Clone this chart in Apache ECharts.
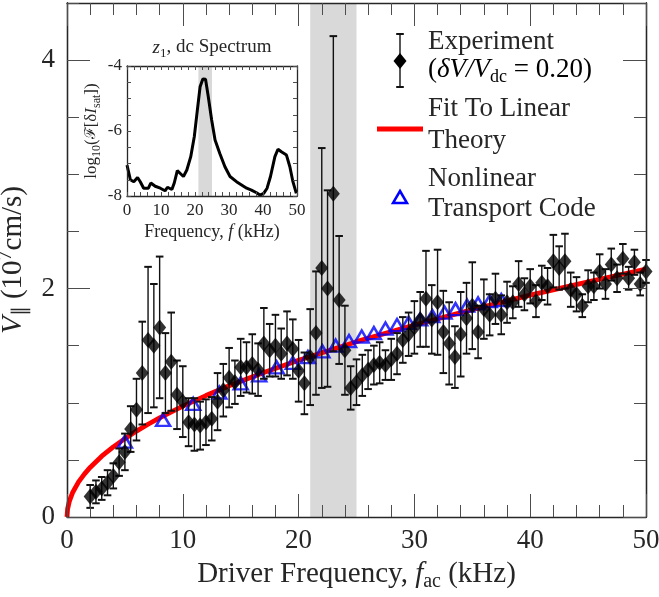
<!DOCTYPE html>
<html><head><meta charset="utf-8">
<script src="https://cdn.jsdelivr.net/npm/echarts@6/dist/echarts.min.js"></script>
<style>html,body{margin:0;padding:0;background:#fff}#c{width:659px;height:597px}</style>
</head><body><div id="c"></div>
<script>
// ---- data ----
const freq = [2.0,2.5,3.0,3.5,4.0,4.5,5.0,5.5,6.0,6.5,7.0,7.5,8.0,8.5,9.0,9.5,10.0,10.5,11.0,11.5,12.0,12.5,13.0,13.5,14.0,14.5,15.0,15.5,16.0,16.5,17.0,17.5,18.0,18.5,19.0,19.5,20.0,20.5,21.0,21.5,22.0,22.5,23.0,23.5,24.0,24.5,25.0,25.5,26.0,26.5,27.0,27.5,28.0,28.5,29.0,29.5,30.0,30.5,31.0,31.5,32.0,32.5,33.0,33.5,34.0,34.5,35.0,35.5,36.0,36.5,37.0,37.5,38.0,38.5,39.0,39.5,40.0,40.5,41.0,41.5,42.0,42.5,43.0,43.5,44.0,44.5,45.0,45.5,46.0,46.5,47.0,47.5,48.0,48.5,49.0,49.5,50.0];
const velocity = [0.18,0.22,0.25,0.30,0.36,0.48,0.57,0.77,0.94,1.26,1.55,1.50,1.66,1.26,1.36,1.07,1.01,0.83,0.81,0.80,0.83,0.86,1.01,1.11,1.22,1.18,1.31,1.31,1.34,1.29,1.52,1.46,1.50,1.43,1.52,1.47,1.28,1.17,1.40,1.61,2.18,2.00,2.83,1.90,1.46,1.13,1.18,1.24,1.29,1.33,1.35,1.33,1.38,1.43,1.55,1.60,1.66,1.73,1.91,1.73,1.88,1.62,1.52,1.40,1.60,1.74,1.85,1.62,1.82,1.77,1.91,1.77,1.88,1.88,2.04,1.95,2.02,1.89,2.05,2.02,2.24,2.18,2.24,1.99,1.95,1.85,2.02,2.02,2.15,2.04,2.21,2.09,2.26,2.09,2.23,2.04,2.15];
const velocityErr = [0.10,0.10,0.10,0.11,0.11,0.12,0.16,0.20,0.27,0.45,0.64,0.54,0.62,0.35,0.43,0.30,0.31,0.21,0.23,0.21,0.20,0.19,0.25,0.23,0.26,0.19,0.25,0.22,0.26,0.23,0.31,0.23,0.27,0.22,0.28,0.26,0.27,0.27,0.42,0.54,1.05,0.86,1.38,0.56,0.39,0.19,0.20,0.18,0.17,0.17,0.18,0.13,0.18,0.18,0.20,0.19,0.23,0.24,0.42,0.30,0.46,0.36,0.36,0.27,0.37,0.31,0.38,0.23,0.26,0.18,0.22,0.17,0.18,0.14,0.20,0.14,0.15,0.14,0.15,0.16,0.23,0.19,0.24,0.15,0.15,0.10,0.14,0.12,0.15,0.13,0.14,0.12,0.13,0.10,0.11,0.10,0.10];
const codeFreq = [5.0,8.3,10.9,13.15,15.0,16.6,18.1,19.5,20.8,22.05,23.2,24.35,25.45,26.5,27.5,28.5,29.5,30.5,31.55,32.6,33.55,34.55,35.5,36.5,37.5];
const codeVel  = [0.66,0.85,0.99,1.09,1.17,1.24,1.31,1.35,1.40,1.45,1.50,1.54,1.58,1.61,1.65,1.68,1.70,1.73,1.76,1.79,1.82,1.85,1.87,1.89,1.90];
const fitFreq = [0,0.05,0.2,0.5,1,1.5,2,3,4,5,6,7,8,10,12,14,17,20,25,30,35,40,45,50];
const fitVel  = [0,0.069,0.137,0.217,0.307,0.376,0.434,0.532,0.614,0.686,0.752,0.812,0.868,0.971,1.063,1.149,1.266,1.373,1.535,1.681,1.816,1.942,2.059,2.171];
const specFreq = [0,1,2,3.1,3.9,4.9,6.3,7.0,8.3,9.8,11.2,11.9,13.2,13.9,14.8,15.6,16.6,17.6,18.75,19.8,20.7,21.5,22.3,23.1,23.9,24.9,25.9,27.3,28.8,30.3,32.2,33.7,35.2,36.6,38.1,39.1,40.2,41.2,42.2,43.5,44.4,45.4,46.9,47.9,48.8,49.8];
const specLog  = [-7.05,-7.5,-7.56,-7.43,-7.56,-7.76,-7.76,-7.6,-7.7,-7.76,-7.84,-7.73,-7.8,-7.6,-7.22,-7.3,-7.4,-7.2,-6.79,-6.17,-5.35,-4.64,-4.40,-4.41,-4.94,-5.66,-6.28,-6.69,-7.1,-7.4,-7.56,-7.66,-7.76,-7.82,-7.9,-7.97,-7.92,-7.76,-7.4,-6.79,-6.56,-6.64,-6.74,-7.1,-7.56,-7.92];
const band = [21, 25];
const mainXTicks = [0, 50, 10];   // min, max, step
const mainYTicks = [0, 4.5, 2];
const insetXTicks = [0, 50, 10];
const insetYTicks = [-8, -4, 2];

// ---- styling ----
const FONT = 'Liberation Serif';
const TXT = '#262626';
const AX = '#262626';
const TK = '#4d4d4d';

function rich(sz) {
  return {
    n: {fontFamily: FONT, fontSize: sz, color: TXT, lineHeight: sz + 6},
    i: {fontFamily: FONT, fontSize: sz, color: TXT, fontStyle: 'italic', lineHeight: sz + 6},
    s: {fontFamily: FONT, fontSize: Math.round(sz * 0.68), color: TXT, lineHeight: Math.round(sz * 0.68), verticalAlign: 'bottom'},
    p: {fontFamily: FONT, fontSize: Math.round(sz * 0.68), color: TXT, lineHeight: Math.round(sz * 0.68), verticalAlign: 'top'},
    c: {fontFamily: 'DejaVu Serif', fontSize: sz - 2, color: TXT, lineHeight: sz + 6}
  };
}
function plain(sz) {
  return {fontFamily: FONT, fontSize: sz, fill: TXT};
}

function valAxis(o) {
  return Object.assign({
    type: 'value', z: 6,
    splitLine: {show: false},
    axisLine: {show: true, onZero: false, lineStyle: {color: AX, width: 1.3}},
    axisTick: {show: true, inside: true, lineStyle: {color: TK, width: 1}},
    axisLabel: {show: false}
  }, o);
}

const chart = echarts.init(document.getElementById('c'), null, {renderer: 'canvas'});

const option = {
  animation: false,
  backgroundColor: '#fff',
  grid: [
    {left: 67, right: 13, top: 3, bottom: 80, containLabel: false, outerBoundsMode: 'none'},
    {left: 127, top: 66, width: 170, height: 130, containLabel: false, outerBoundsMode: 'none'}
  ],
  xAxis: [
    valAxis({gridIndex: 0, position: 'bottom', min: mainXTicks[0], max: mainXTicks[1], interval: mainXTicks[2],
      axisTick: {show: true, inside: true, length: 23, lineStyle: {color: TK, width: 1}},
      minorTick: {show: true, splitNumber: 5, length: 12, lineStyle: {color: TK, width: 1}},
      axisLabel: {show: true, fontFamily: FONT, fontSize: 27, color: TXT, margin: 10},
      name: '{n|Driver Frequency, }{i|f}{s|ac}{n| (kHz)}', nameLocation: 'middle', nameGap: 40,
      nameTextStyle: {rich: rich(29)}}),
    valAxis({gridIndex: 0, position: 'top', min: mainXTicks[0], max: mainXTicks[1], interval: mainXTicks[2],
      axisTick: {show: true, inside: true, length: 23, lineStyle: {color: TK, width: 1}},
      minorTick: {show: true, splitNumber: 5, length: 12, lineStyle: {color: TK, width: 1}}}),
    valAxis({gridIndex: 1, position: 'bottom', min: insetXTicks[0], max: insetXTicks[1], interval: insetXTicks[2],
      axisTick: {show: true, inside: true, length: 4, lineStyle: {color: TK, width: 1}},
      minorTick: {show: true, splitNumber: 5, length: 4, lineStyle: {color: TK, width: 1}},
      axisLabel: {show: true, fontFamily: FONT, fontSize: 17, color: TXT, margin: 6},
      name: '{n|Frequency, }{i|f}{n| (kHz)}', nameLocation: 'middle', nameGap: 24,
      nameTextStyle: {rich: rich(18)}}),
    valAxis({gridIndex: 1, position: 'top', min: insetXTicks[0], max: insetXTicks[1], interval: insetXTicks[2],
      axisTick: {show: true, inside: true, length: 4, lineStyle: {color: TK, width: 1}},
      minorTick: {show: true, splitNumber: 5, length: 4, lineStyle: {color: TK, width: 1}},
      name: '{i|z}{s|1}{n|, dc Spectrum}', nameLocation: 'middle', nameGap: 6,
      nameTextStyle: {rich: rich(19)}})
  ],
  yAxis: [
    valAxis({gridIndex: 0, position: 'left', min: mainYTicks[0], max: mainYTicks[1], interval: mainYTicks[2],
      axisTick: {show: true, inside: true, length: 23, lineStyle: {color: TK, width: 1}},
      axisLabel: {show: true, showMaxLabel: false, fontFamily: FONT, fontSize: 27, color: TXT, margin: 12},
      name: '{i|V}{s|∥}{n| (10}{p|7}{n|cm/s)}', nameLocation: 'middle', nameGap: 22, nameRotate: 90,
      nameTextStyle: {rich: rich(29)}}),
    valAxis({gridIndex: 0, position: 'left', min: mainYTicks[0], max: mainYTicks[1], interval: 0.5,
      axisTick: {show: true, inside: true, length: 12, lineStyle: {color: TK, width: 1}}}),
    valAxis({gridIndex: 0, position: 'right', min: mainYTicks[0], max: mainYTicks[1], interval: mainYTicks[2],
      axisTick: {show: true, inside: true, length: 23, lineStyle: {color: TK, width: 1}}}),
    valAxis({gridIndex: 0, position: 'right', min: mainYTicks[0], max: mainYTicks[1], interval: 0.5,
      axisTick: {show: true, inside: true, length: 12, lineStyle: {color: TK, width: 1}}}),
    valAxis({gridIndex: 1, position: 'left', min: insetYTicks[0], max: insetYTicks[1], interval: insetYTicks[2],
      axisTick: {show: true, inside: true, length: 4, lineStyle: {color: TK, width: 1}},
      minorTick: {show: true, splitNumber: 4, length: 4, lineStyle: {color: TK, width: 1}},
      axisLabel: {show: true, fontFamily: FONT, fontSize: 17, color: TXT, margin: 5},
      name: '{n|log}{s|10}{n|(}{c|ℱ}{n|[δ}{i|I}{s|sat}{n|])}', nameLocation: 'middle', nameGap: 24, nameRotate: 90,
      nameTextStyle: {rich: rich(17)}}),
    valAxis({gridIndex: 1, position: 'right', min: insetYTicks[0], max: insetYTicks[1], interval: insetYTicks[2],
      axisTick: {show: true, inside: true, length: 4, lineStyle: {color: TK, width: 1}},
      minorTick: {show: true, splitNumber: 4, length: 4, lineStyle: {color: TK, width: 1}}})
  ],
  series: [
    { // shaded band, main
      type: 'line', xAxisIndex: 0, yAxisIndex: 0, data: [], z: 1, silent: true,
      markArea: {silent: true, itemStyle: {color: '#d9d9d9'}, data: [[{xAxis: band[0]}, {xAxis: band[1]}]]}
    },
    { // shaded band, inset
      type: 'line', xAxisIndex: 2, yAxisIndex: 4, data: [], z: 1, silent: true,
      markArea: {silent: true, itemStyle: {color: '#d9d9d9'}, data: [[{xAxis: band[0]}, {xAxis: band[1]}]]}
    },
    {
      name: 'Fit To Linear Theory', type: 'line', xAxisIndex: 0, yAxisIndex: 0, z: 2,
      data: fitFreq.map((f, i) => [f, fitVel[i]]), showSymbol: false, symbol: 'none',
      lineStyle: {color: '#ff0000', width: 4.8}
    },
    {
      name: 'Nonlinear Transport Code', type: 'scatter', xAxisIndex: 0, yAxisIndex: 0, z: 3,
      data: codeFreq.map((f, i) => [f, codeVel[i]]), symbol: 'triangle', symbolSize: [14, 12],
      itemStyle: {color: 'rgba(0,0,0,0)', borderColor: '#0000ff', borderWidth: 2.5}
    },
    {
      name: 'errorbars', type: 'custom', xAxisIndex: 0, yAxisIndex: 0, z: 4,
      data: freq.map((f, i) => [f, velocity[i] - velocityErr[i], velocity[i] + velocityErr[i]]),
      encode: {x: 0, y: [1, 2]},
      renderItem: function (params, api) {
        const x = api.value(0);
        const lo = api.coord([x, api.value(1)]);
        const hi = api.coord([x, api.value(2)]);
        const cw = 3.8;
        return {type: 'group', children: [
          {type: 'line', shape: {x1: lo[0], y1: lo[1], x2: hi[0], y2: hi[1]}, style: {stroke: '#111', lineWidth: 1.4}},
          {type: 'line', shape: {x1: lo[0] - cw, y1: lo[1], x2: lo[0] + cw, y2: lo[1]}, style: {stroke: '#111', lineWidth: 2}},
          {type: 'line', shape: {x1: hi[0] - cw, y1: hi[1], x2: hi[0] + cw, y2: hi[1]}, style: {stroke: '#111', lineWidth: 2}}
        ]};
      }
    },
    {
      name: 'Experiment', type: 'scatter', xAxisIndex: 0, yAxisIndex: 0, z: 5,
      data: freq.map((f, i) => [f, velocity[i]]), symbol: 'diamond', symbolSize: [13, 16],
      itemStyle: {color: '#000'}
    },
    {
      name: 'spectrum', type: 'line', xAxisIndex: 2, yAxisIndex: 4, z: 3,
      data: specFreq.map((f, i) => [f, specLog[i]]), symbol: 'none',
      lineStyle: {color: '#000', width: 3}
    }
  ],
  graphic: [
    // legend: Experiment
    {type: 'line', shape: {x1: 400, y1: 34, x2: 400, y2: 87}, style: {stroke: '#111', lineWidth: 1.4}, z: 10},
    {type: 'line', shape: {x1: 396.2, y1: 34, x2: 403.8, y2: 34}, style: {stroke: '#111', lineWidth: 2}, z: 10},
    {type: 'line', shape: {x1: 396.2, y1: 87, x2: 403.8, y2: 87}, style: {stroke: '#111', lineWidth: 2}, z: 10},
    {type: 'polygon', shape: {points: [[400, 53], [406.5, 61], [400, 69], [393.5, 61]]}, style: {fill: '#000'}, z: 10},
    {type: 'text', left: 428, top: 28, z: 10, style: Object.assign({text: 'Experiment'}, plain(27))},
    {type: 'text', left: 428, top: 56, z: 10, style: {text: '{n|(}{i|δV/V}{s|dc}{n| = 0.20)}', rich: rich(27)}},
    // legend: fit
    {type: 'line', shape: {x1: 377, y1: 129, x2: 423, y2: 129}, style: {stroke: '#ff0000', lineWidth: 4.8}, z: 10},
    {type: 'text', left: 428, top: 95, z: 10, style: Object.assign({text: 'Fit To Linear'}, plain(27))},
    {type: 'text', left: 428, top: 127, z: 10, style: Object.assign({text: 'Theory'}, plain(27))},
    // legend: code
    {type: 'polygon', shape: {points: [[400, 191], [407, 203], [393, 203]]}, style: {fill: 'none', stroke: '#0000ff', lineWidth: 2.5}, z: 10},
    {type: 'text', left: 428, top: 165, z: 10, style: Object.assign({text: 'Nonlinear'}, plain(27))},
    {type: 'text', left: 428, top: 195, z: 10, style: Object.assign({text: 'Transport Code'}, plain(27))}
  ]
};
chart.setOption(option);
</script>
</body></html>
